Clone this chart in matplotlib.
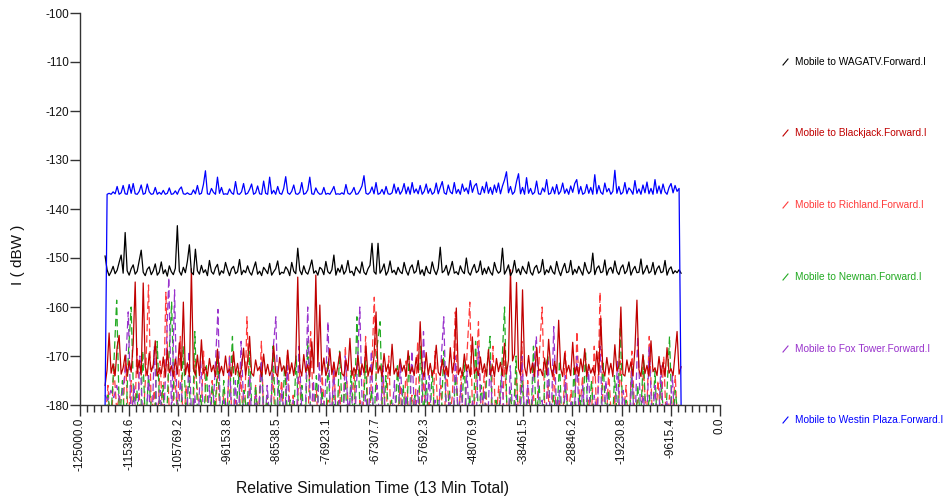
import numpy as np
import matplotlib
matplotlib.use("Agg")
import matplotlib.pyplot as plt
from matplotlib.lines import Line2D

plt.rcParams['font.family'] = ['Liberation Sans', 'DejaVu Sans']

# ---------------- data ----------------
t_start = -120100.0
t_end = -7600.0

series_names = ["Mobile to WAGATV.Forward.I", "Mobile to Blackjack.Forward.I",
                "Mobile to Richland.Forward.I", "Mobile to Newnan.Forward.I",
                "Mobile to Fox Tower.Forward.I", "Mobile to Westin Plaza.Forward.I"]
series_colors = ["#000000", "#c00000", "#ff3b3b", "#22aa22", "#9933cc", "#0000ff"]

westin = [
    -180, -137.0, -136.8, -137.0, -136.5, -136.9, -135.4, -137.0, -136.7, -135.2, -136.9, -137.0, -135.0, -136.8, -134.8, -136.9,
    -137.0, -136.4, -135.1, -137.0, -136.8, -134.9, -136.5, -137.0, -136.9, -135.6, -137.0, -136.6, -137.0, -136.2, -137.0, -136.8,
    -135.7, -137.0, -136.9, -136.3, -137.0, -136.0, -135.5, -136.9, -137.0, -136.7, -137.0, -137.0, -136.1, -136.9, -135.2, -137.0,
    -136.8, -135.0, -132.2, -136.9, -137.0, -135.8, -136.6, -137.0, -133.5, -136.8, -135.6, -137.0, -136.9, -137.0, -135.9, -136.7,
    -137.0, -134.4, -136.9, -137.0, -136.5, -134.8, -137.0, -136.8, -136.0, -134.9, -137.0, -136.7, -135.3, -136.9, -137.0, -134.3,
    -136.8, -137.0, -133.5, -136.9, -136.2, -137.0, -135.4, -136.8, -137.0, -135.8, -133.4, -136.7, -137.0, -136.4, -135.1, -136.9,
    -137.0, -136.6, -134.6, -137.0, -136.8, -136.1, -133.5, -136.9, -137.0, -135.7, -136.6, -137.0, -136.9, -135.6, -137.0, -136.8,
    -137.0, -136.3, -135.4, -137.0, -136.9, -137.0, -136.7, -137.0, -135.0, -136.8, -137.0, -136.5, -135.6, -137.0, -136.9, -136.2,
    -135.3, -133.2, -136.8, -137.0, -136.6, -135.5, -136.9, -134.6, -137.0, -136.8, -136.0, -137.0, -135.4, -136.9, -137.0, -136.7,
    -134.9, -136.8, -135.6, -137.0, -136.3, -134.8, -136.9, -135.5, -137.0, -134.6, -136.7, -135.9, -136.9, -135.2, -137.0, -136.4,
    -134.9, -136.8, -135.8, -137.0, -136.6, -134.7, -136.9, -135.6, -134.4, -136.7, -137.0, -135.1, -136.5, -136.9, -134.6, -136.8,
    -136.0, -137.0, -134.9, -136.4, -135.7, -136.9, -134.2, -136.6, -135.3, -134.8, -136.9, -137.0, -135.4, -136.7, -134.5, -136.8,
    -135.6, -137.0, -135.1, -136.6, -134.7, -136.9, -135.3, -134.1, -132.4, -136.7, -135.4, -137.0, -136.5, -134.4, -132.8, -136.9,
    -135.6, -137.0, -133.6, -136.8, -135.8, -137.0, -136.6, -134.3, -136.9, -137.0, -135.7, -136.5, -134.0, -137.0, -136.8, -135.5,
    -136.9, -135.0, -137.0, -136.4, -134.7, -136.8, -135.9, -137.0, -135.3, -136.6, -134.8, -134.0, -136.9, -135.4, -137.0, -136.7,
    -135.0, -136.8, -135.6, -137.0, -133.0, -136.9, -135.2, -136.6, -137.0, -134.7, -136.5, -135.8, -137.0, -136.4, -132.1, -136.8,
    -135.4, -137.0, -136.6, -134.6, -136.9, -135.7, -136.2, -137.0, -134.2, -136.8, -135.9, -137.0, -135.1, -136.7, -134.5, -136.9,
    -135.8, -137.0, -134.0, -136.8, -135.3, -136.9, -134.9, -136.5, -137.0, -135.6, -134.8, -136.7, -135.2, -136.4, -135.8, -180]

wagatv = [
    -149.6, -152.4, -153.6, -152.8, -151.7, -153.2, -152.5, -150.9, -149.4, -153.1, -144.8, -152.6, -153.5, -152.2, -151.4, -153.3,
    -152.7, -150.6, -148.4, -152.9, -153.6, -152.3, -151.8, -153.4, -152.6, -151.2, -153.5, -152.9, -150.8, -153.2, -152.4, -153.7,
    -151.6, -152.8, -153.4, -152.1, -143.4, -152.7, -153.5, -151.9, -153.0, -150.7, -147.3, -152.9, -153.4, -148.2, -152.6, -153.3,
    -151.5, -153.0, -152.4, -153.6, -150.5, -152.8, -153.3, -152.0, -151.3, -153.5, -152.6, -153.1, -150.9, -152.4, -153.6, -152.2,
    -151.7, -153.2, -152.8, -150.3, -153.4, -152.5, -153.0, -151.6, -152.9, -153.5, -152.1, -150.8, -153.3, -152.7, -153.6, -151.9,
    -152.5, -153.2, -151.1, -153.5, -152.8, -152.2, -150.6, -153.4, -152.9, -153.1, -151.8, -152.4, -153.6, -150.9, -152.7, -153.2,
    -148.0, -152.5, -153.4, -151.6, -152.9, -153.3, -152.0, -150.4, -153.1, -152.6, -153.5, -151.9, -152.3, -153.4, -150.7, -152.8,
    -153.2, -152.4, -149.4, -153.5, -152.1, -152.9, -151.4, -153.3, -152.6, -150.5, -153.0, -152.7, -153.6, -151.8, -152.5, -153.1,
    -150.8, -152.9, -153.4, -152.2, -151.5, -147.0, -152.8, -153.3, -147.0, -153.1, -152.4, -151.2, -153.5, -152.7, -150.6, -153.0,
    -152.5, -153.4, -151.9, -152.8, -153.2, -150.9, -152.6, -153.5, -152.0, -151.4, -153.1, -152.7, -150.5, -153.3, -152.4, -153.6,
    -151.7, -152.9, -153.2, -150.8, -152.5, -153.4, -152.1, -147.8, -153.0, -152.6, -151.5, -153.5, -152.3, -150.7, -153.1, -152.8,
    -153.4, -151.6, -152.7, -153.2, -150.0, -152.9, -153.5, -152.2, -151.3, -153.0, -152.6, -150.6, -153.4, -152.1, -153.2, -151.8,
    -152.9, -153.5, -150.9, -152.4, -153.1, -152.7, -148.0, -153.3, -152.5, -151.4, -153.6, -152.8, -150.5, -153.0, -152.2, -153.4,
    -151.7, -152.6, -153.2, -150.8, -152.9, -153.5, -152.0, -151.5, -153.1, -152.7, -150.3, -153.4, -152.4, -153.0, -151.6, -152.8,
    -153.3, -150.7, -152.5, -153.6, -152.2, -151.1, -153.0, -152.8, -150.5, -153.4, -152.3, -153.1, -151.7, -152.6, -153.5, -150.9,
    -152.4, -153.2, -152.7, -149.0, -153.4, -152.1, -151.6, -153.0, -152.8, -150.4, -153.5, -152.3, -151.9, -153.1, -150.6, -152.7,
    -153.4, -152.0, -151.4, -153.2, -152.6, -150.8, -153.5, -152.4, -151.7, -153.0, -152.9, -150.2, -153.3, -152.5, -151.5, -153.1,
    -152.7, -150.9, -153.4, -152.2, -151.6, -153.0, -152.8, -150.5, -153.5, -152.3, -151.8, -153.2, -152.6, -153.0, -152.4, -153.1]

blackjack = [
    -176.0, -172.8, -165.3, -173.5, -171.6, -174.0, -168.2, -165.8, -173.7, -172.4, -169.8, -174.1, -171.0, -173.3, -167.5, -154.9,
    -173.6, -170.9, -173.9, -155.1, -172.2, -174.0, -169.4, -173.2, -171.8, -166.9, -174.1, -172.5, -173.6, -170.2, -174.2, -168.7,
    -173.4, -172.0, -174.1, -170.6, -173.7, -167.3, -172.9, -159.0, -173.8, -171.4, -174.2, -152.2, -172.6, -173.9, -169.8, -174.0,
    -166.7, -173.5, -172.3, -174.1, -170.5, -173.2, -171.9, -174.2, -168.6, -173.6, -172.1, -174.0, -170.0, -173.4, -172.7, -174.1,
    -169.1, -173.8, -171.5, -174.2, -172.4, -168.4, -173.9, -171.2, -166.0, -173.5, -174.1, -170.8, -173.0, -172.2, -174.2, -169.6,
    -173.7, -171.7, -174.0, -172.8, -167.9, -173.4, -174.2, -170.3, -173.1, -172.0, -174.1, -168.8, -173.6, -171.4, -174.0, -170.7,
    -153.9, -172.5, -174.1, -169.7, -173.3, -171.8, -174.2, -167.1, -173.5, -153.5, -172.2, -159.6, -173.9, -170.4, -174.0, -172.6,
    -168.5, -173.8, -171.3, -174.2, -172.0, -169.2, -173.6, -174.1, -170.9, -173.0, -166.4, -174.0, -172.4, -173.7, -169.9, -174.2,
    -171.6, -173.4, -168.0, -174.1, -172.3, -173.8, -170.1, -161.0, -173.5, -172.0, -174.2, -169.5, -173.2, -171.7, -174.0, -167.6,
    -173.7, -172.5, -174.2, -170.6, -173.1, -171.9, -174.1, -168.9, -173.6, -172.2, -174.0, -170.3, -173.4, -163.0, -172.8, -174.2,
    -169.3, -173.9, -171.5, -174.1, -172.6, -167.8, -173.3, -174.0, -170.7, -173.7, -172.1, -174.2, -168.3, -173.5, -171.2, -160.2,
    -173.8, -172.4, -174.1, -169.6, -173.0, -171.8, -174.2, -166.1, -173.6, -172.3, -174.0, -170.2, -173.4, -171.6, -174.1, -168.7,
    -173.9, -172.0, -174.2, -170.5, -173.2, -171.3, -174.0, -167.4, -173.7, -170.8, -152.4, -171.0, -169.6, -155.0, -172.6, -173.9,
    -156.5, -172.2, -174.1, -169.9, -173.5, -171.4, -174.2, -168.2, -173.0, -172.7, -174.0, -170.4, -173.8, -166.6, -172.3, -174.1,
    -171.1, -173.6, -162.7, -172.5, -174.2, -169.4, -173.3, -171.9, -174.0, -167.2, -173.7, -172.1, -174.1, -170.6, -173.2, -168.5,
    -174.2, -171.7, -173.5, -172.4, -174.0, -169.0, -173.8, -162.3, -172.6, -174.1, -170.3, -173.4, -171.5, -174.2, -167.7, -173.1,
    -172.0, -160.0, -173.7, -174.1, -170.8, -173.3, -171.2, -174.0, -168.6, -158.6, -172.8, -174.2, -169.7, -173.6, -171.9, -174.1,
    -166.9, -173.2, -172.4, -174.0, -170.1, -173.8, -171.3, -174.2, -168.3, -173.5, -172.6, -174.0, -169.4, -165.0, -173.7, -172.2]

richland = [
    -184, -176, -188, -172, -181, -178, -186, -170, -183, -175, -189, -168, -180, -185, -174, -155.5, -182, -177, -187, -171,
    -184, -157, -179, -188, -173, -182, -166, -186, -176, -183, -190, -171, -178, -185, -169, -181, -187, -175, -183, -172,
    -189, -177, -184, -170, -186, -179, -182, -174, -188, -162, -180, -185, -176, -183, -167, -187, -178, -184, -173, -189,
    -181, -175, -186, -169, -183, -178, -188, -172, -184, -180, -186, -165, -182, -177, -189, -174, -183, -179, -187, -171,
    -185, -176, -188, -168, -181, -184, -173, -187, -179, -183, -166, -186, -175, -158, -182, -188, -174, -184, -170, -187,
    -180, -183, -176, -189, -171, -185, -178, -182, -167, -187, -174, -184, -179, -188, -169, -182, -176, -186, -172, -183,
    -178, -161, -185, -174, -188, -170, -159, -183, -177, -163, -186, -173, -181, -189, -168, -184, -176, -187, -171, -182,
    -179, -186, -173, -184, -167, -188, -175, -182, -178, -185, -170, -160, -183, -176, -189, -172, -184, -179, -186, -169,
    -182, -177, -188, -165, -181, -174, -187, -179, -183, -168, -185, -157, -180, -186, -173, -184, -178, -189, -171, -183,
    -176, -186, -169, -182, -179, -188, -172, -184, -166, -181, -187, -175, -183, -170, -186, -178, -182, -174, -188, -180]

newnan = [
    -186, -178, -183, -172, -158.6, -184, -175, -188, -170, -160, -182, -177, -189, -169, -185, -174, -181, -187, -167, -183,
    -176, -188, -171, -159, -184, -179, -186, -168, -182, -174, -189, -165, -183, -178, -185, -172, -187, -176, -181, -170,
    -186, -175, -183, -179, -166, -188, -173, -184, -177, -182, -169, -187, -176, -185, -171, -183, -178, -189, -168, -184,
    -175, -187, -172, -182, -179, -186, -170, -184, -176, -188, -167, -181, -185, -174, -183, -177, -189, -171, -184, -178,
    -186, -169, -182, -175, -188, -173, -185, -162, -180, -184, -171, -187, -177, -183, -168, -163, -186, -174, -182, -179,
    -188, -172, -184, -176, -186, -170, -183, -178, -189, -168, -182, -175, -187, -173, -184, -179, -185, -169, -183, -177,
    -188, -174, -181, -186, -171, -184, -178, -189, -167, -183, -176, -185, -172, -166, -187, -179, -182, -173, -160, -186,
    -177, -184, -170, -188, -175, -182, -179, -186, -168, -183, -176, -189, -173, -170, -185, -178, -184, -171, -187, -176,
    -182, -188, -172, -185, -178, -183, -169, -187, -175, -184, -180, -186, -171, -182, -177, -189, -174, -183, -164, -186,
    -179, -185, -172, -188, -176, -183, -170, -186, -178, -184, -173, -189, -175, -182, -179, -166, -185, -177, -183, -180]

foxtower = [
    -178, -179, -177, -178.5, -176, -179, -177.5, -173, -161, -184, -176, -188, -170, -182, -186, -174, -189, -168, -183, -177,
    -187, -172, -154, -183, -156.5, -185, -175, -181, -188, -169, -184, -178, -186, -171, -182, -189, -176, -184, -173, -160.5,
    -187, -179, -183, -170, -188, -175, -185, -167, -182, -186, -174, -189, -178, -183, -171, -187, -176, -184, -169, -162,
    -186, -177, -183, -172, -188, -179, -185, -168, -182, -187, -160, -184, -175, -189, -171, -183, -178, -163, -186, -173,
    -184, -179, -188, -170, -182, -176, -187, -174, -160, -185, -178, -183, -169, -188, -176, -184, -172, -186, -180, -183,
    -175, -189, -171, -184, -178, -186, -169, -183, -177, -188, -165, -182, -174, -187, -179, -185, -172, -162, -184, -178,
    -189, -170, -183, -176, -186, -173, -185, -179, -188, -168, -182, -177, -187, -171, -184, -180, -186, -174, -183, -189,
    -172, -185, -178, -188, -170, -184, -176, -187, -173, -166, -183, -179, -189, -171, -186, -164, -182, -177, -188, -174,
    -185, -179, -183, -170, -187, -176, -184, -172, -189, -178, -182, -168, -186, -175, -183, -180, -188, -171, -185, -177,
    -183, -189, -173, -186, -166, -181, -178, -187, -168, -184, -176, -188, -172, -185, -179, -183, -174, -187, -180, -185]

x_min, x_max = -125000.0, 0.0
y_min, y_max = -180, -100
y_ticks = [-180, -170, -160, -150, -140, -130, -120, -110, -100]
x_tick_labels = ["-125000.0", "-115384.6", "-105769.2", "-96153.8", "-86538.5", "-76923.1",
                 "-67307.7", "-57692.3", "-48076.9", "-38461.5", "-28846.2", "-19230.8",
                 "-9615.4", "0.0"]

# ---------------- figure ----------------
W, H = 946, 501
fig = plt.figure(figsize=(W / 100, H / 100), dpi=100)
ax = fig.add_axes([80 / W, (H - 405) / H, 640 / W, 392 / H])

def tgrid(vals):
    return np.linspace(t_start, t_end, len(vals))

dash = (0, (6, 3))
ax.plot(tgrid(richland), richland, color=series_colors[2], lw=0.9, ls=dash)
ax.plot(tgrid(newnan), newnan, color=series_colors[3], lw=0.9, ls=dash)
ax.plot(tgrid(foxtower), foxtower, color=series_colors[4], lw=0.9, ls=dash)
ax.plot(tgrid(blackjack), blackjack, color=series_colors[1], lw=0.9)
ax.plot(tgrid(wagatv), wagatv, color=series_colors[0], lw=0.9)
ax.plot(tgrid(westin), westin, color=series_colors[5], lw=0.9)

ax.set_xlim(x_min, x_max)
ax.set_ylim(y_min, y_max)

axis_col = "#333333"
for s in ["top", "right"]:
    ax.spines[s].set_visible(False)
for s in ["left", "bottom"]:
    ax.spines[s].set_color(axis_col)
    ax.spines[s].set_linewidth(1.0)

major = np.linspace(x_min, x_max, len(x_tick_labels))
ax.set_xticks(major)
ax.set_xticklabels(x_tick_labels, rotation=90, fontsize=8.5, color="#111111")
step = (x_max - x_min) / (len(x_tick_labels) - 1)
ax.set_xticks(np.arange(x_min, x_max + 1, step / 7), minor=True)
ax.tick_params(axis="x", which="major", length=8, width=1, color=axis_col, pad=1)
ax.tick_params(axis="x", which="minor", length=5, width=1, color=axis_col)

ax.set_yticks(y_ticks)
ax.set_yticklabels([str(v) for v in y_ticks], fontsize=8.5, color="#111111")
ax.tick_params(axis="y", which="major", length=7, width=1, color=axis_col, pad=1)

fig.text(18 / W, 1 - 255 / H, "I ( dBW )", rotation=90, ha="center", va="center",
         fontsize=11, color="#111111")
fig.text(372 / W, 1 - 488 / H, "Relative Simulation Time (13 Min Total)",
         ha="center", va="center", fontsize=11.3, color="#111111")

# legend on right
leg_y = [62, 133, 205, 277, 349, 420]
for name, col, yy in zip(series_names, series_colors, leg_y):
    fig.add_artist(Line2D([783 / W, 788 / W], [1 - (yy + 3) / H, 1 - (yy - 3) / H],
                          color=col, lw=0.8, transform=fig.transFigure))
    fig.text(795 / W, 1 - yy / H, name, ha="left", va="center", fontsize=7.3, color=col)

fig.savefig("out.png", dpi=100)
